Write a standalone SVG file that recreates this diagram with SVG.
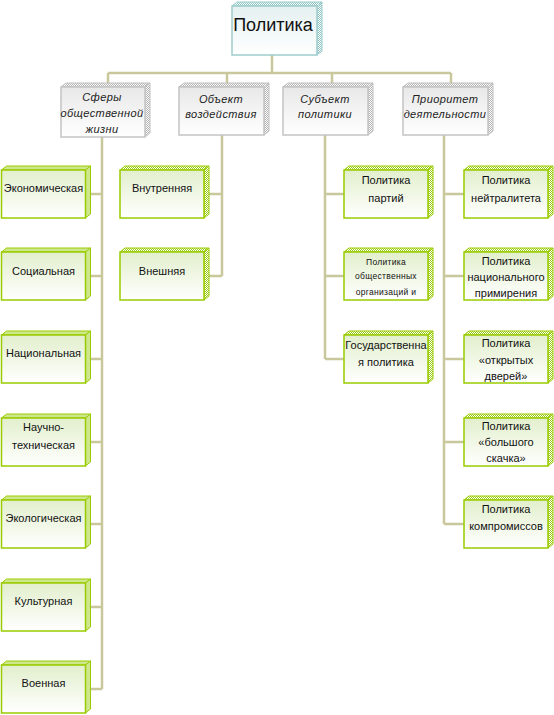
<svg xmlns="http://www.w3.org/2000/svg" xmlns:xlink="http://www.w3.org/1999/xlink" width="554" height="715" viewBox="0 0 554 715">
<style>
.conn{stroke:#c8c89c;stroke-width:2.5;fill:none}
.t{font-family:"Liberation Sans","DejaVu Sans",sans-serif;font-size:11px;fill:#111;text-anchor:middle}
.ti{font-family:"Liberation Sans","DejaVu Sans",sans-serif;font-size:11px;font-style:italic;fill:#222;text-anchor:middle;letter-spacing:0.4px}
.ts{font-family:"Liberation Sans","DejaVu Sans",sans-serif;font-size:8.5px;fill:#111;text-anchor:middle;letter-spacing:0.3px}
.tt{font-family:"Liberation Sans","DejaVu Sans",sans-serif;font-size:18px;fill:#111;text-anchor:middle}
</style>
<defs>
<pattern id="chkG" width="2" height="2" patternUnits="userSpaceOnUse"><rect width="2" height="2" fill="#ffffff"/><rect width="1" height="1" fill="#9ccc1a"/><rect x="1" y="1" width="1" height="1" fill="#9ccc1a"/></pattern>
<pattern id="chkS" width="2" height="2" patternUnits="userSpaceOnUse"><rect width="2" height="2" fill="#ffffff"/><rect width="1" height="1" fill="#b4b4b4"/><rect x="1" y="1" width="1" height="1" fill="#b4b4b4"/></pattern>
<pattern id="chkT" width="2" height="2" patternUnits="userSpaceOnUse"><rect width="2" height="2" fill="#ffffff"/><rect width="1" height="1" fill="#8fc4c4"/><rect x="1" y="1" width="1" height="1" fill="#8fc4c4"/></pattern>
<linearGradient id="gG" x1="0" y1="0" x2="0" y2="1"><stop offset="0" stop-color="#e2efcc"/><stop offset="1" stop-color="#ffffff"/></linearGradient>
<linearGradient id="gS" x1="0" y1="0" x2="0" y2="1"><stop offset="0" stop-color="#e8e8e8"/><stop offset="1" stop-color="#ffffff"/></linearGradient>
<linearGradient id="gT" x1="0" y1="0" x2="0" y2="1"><stop offset="0" stop-color="#e4f0f0"/><stop offset="1" stop-color="#ffffff"/></linearGradient>
<g id="gbox">
<polygon points="0,0 5,-4 89,-4 84,0" fill="url(#chkG)" stroke="#99cc00" stroke-width="1"/>
<polygon points="84,0 89,-4 89,44 84,48" fill="url(#chkG)" stroke="#99cc00" stroke-width="1"/>
<rect x="0" y="0" width="84" height="48" fill="url(#gG)" stroke="#99cc00" stroke-width="1.5"/>
</g>
<g id="sbox">
<polygon points="0,0 5,-4 90,-4 85,0" fill="url(#chkS)" stroke="#c0c0c0" stroke-width="1"/>
<polygon points="85,0 90,-4 90,44 85,48" fill="url(#chkS)" stroke="#c0c0c0" stroke-width="1"/>
<rect x="0" y="0" width="85" height="48" fill="url(#gS)" stroke="#c4c4c4" stroke-width="1.5"/>
</g>
</defs>
<rect width="554" height="715" fill="#ffffff"/>
<g id="connectors">
<path class="conn" d="M272,55 V73 M108,73 H451 M108,73 V83 M227,73 V83 M332,73 V83 M451,73 V83"/>
<path class="conn" d="M102,137 V689 M89,194 H102 M89,276 H102 M89,359 H102 M89,442 H102 M89,524 H102 M89,607 H102 M89,689 H102"/>
<path class="conn" d="M222,135 V276 M208,194 H222 M208,276 H222"/>
<path class="conn" d="M325,135 V359 M325,194 H344 M325,276 H344 M325,359 H344"/>
<path class="conn" d="M444,135 V524 M444,194 H464 M444,276 H464 M444,359 H464 M444,442 H464 M444,524 H464"/>
</g>
<g id="n-politika">
<polygon points="232,6 237,2 322,2 317,6" fill="url(#chkT)" stroke="#99cccc" stroke-width="1"/>
<polygon points="317,6 322,2 322,51 317,55" fill="url(#chkT)" stroke="#99cccc" stroke-width="1"/>
<rect x="232" y="6" width="85" height="49" fill="url(#gT)" stroke="#a0cccc" stroke-width="1.5"/>
<text class="tt" x="273" y="31">Политика</text>
</g>
<g id="n-sfery">
<polygon points="61,87 66,83 150,83 145,87" fill="url(#chkS)" stroke="#c0c0c0" stroke-width="1"/>
<polygon points="145,87 150,83 150,133 145,137" fill="url(#chkS)" stroke="#c0c0c0" stroke-width="1"/>
<rect x="61" y="87" width="84" height="50" fill="url(#gS)" stroke="#c4c4c4" stroke-width="1.5"/>
<text class="ti" x="102" y="101">Сферы</text>
<text class="ti" x="102" y="117">общественной</text>
<text class="ti" x="102" y="133">жизни</text>
</g>
<g id="n-obekt">
<use xlink:href="#sbox" x="179" y="87"/>
<text class="ti" x="221" y="103">Объект</text>
<text class="ti" x="221" y="118">воздействия</text>
</g>
<g id="n-subekt">
<use xlink:href="#sbox" x="283" y="87"/>
<text class="ti" x="325" y="103">Субъект</text>
<text class="ti" x="325" y="118">политики</text>
</g>
<g id="n-prioritet">
<use xlink:href="#sbox" x="403" y="87"/>
<text class="ti" x="445" y="103">Приоритет</text>
<text class="ti" x="445" y="118">деятельности</text>
</g>
<g id="n-ekon"><use xlink:href="#gbox" x="1.5" y="170"/><text class="t" x="43.5" y="192">Экономическая</text></g>
<g id="n-soc"><use xlink:href="#gbox" x="1.5" y="252"/><text class="t" x="43.5" y="275">Социальная</text></g>
<g id="n-nac"><use xlink:href="#gbox" x="1.5" y="335"/><text class="t" x="43.5" y="357">Национальная</text></g>
<g id="n-nauch"><use xlink:href="#gbox" x="1.5" y="418"/><text class="t" x="43.5" y="431">Научно-</text><text class="t" x="43.5" y="449">техническая</text></g>
<g id="n-ekol"><use xlink:href="#gbox" x="1.5" y="500"/><text class="t" x="43.5" y="522">Экологическая</text></g>
<g id="n-kult"><use xlink:href="#gbox" x="1.5" y="583"/><text class="t" x="43.5" y="605">Культурная</text></g>
<g id="n-voen"><use xlink:href="#gbox" x="1.5" y="665"/><text class="t" x="43.5" y="687">Военная</text></g>
<g id="n-vnutr"><use xlink:href="#gbox" x="120" y="170"/><text class="t" x="162" y="192">Внутренняя</text></g>
<g id="n-vnesh"><use xlink:href="#gbox" x="120" y="252"/><text class="t" x="162" y="275">Внешняя</text></g>
<g id="n-partiy"><use xlink:href="#gbox" x="344" y="170"/><text class="t" x="386" y="184">Политика</text><text class="t" x="386" y="202">партий</text></g>
<g id="n-obsh"><use xlink:href="#gbox" x="344" y="252"/><text class="ts" x="386" y="265">Политика</text><text class="ts" x="386" y="279">общественных</text><text class="ts" x="386" y="295">организаций и</text></g>
<g id="n-gos"><use xlink:href="#gbox" x="344" y="335"/><text class="t" x="386" y="349">Государственна</text><text class="t" x="386" y="366">я политика</text></g>
<g id="n-neitr"><use xlink:href="#gbox" x="464" y="170"/><text class="t" x="506" y="184">Политика</text><text class="t" x="506" y="202">нейтралитета</text></g>
<g id="n-primir"><use xlink:href="#gbox" x="464" y="252"/><text class="t" x="506" y="265">Политика</text><text class="t" x="506" y="281">национального</text><text class="t" x="506" y="297">примирения</text></g>
<g id="n-otkr"><use xlink:href="#gbox" x="464" y="335"/><text class="t" x="506" y="347">Политика</text><text class="t" x="506" y="364">«открытых</text><text class="t" x="506" y="380">дверей»</text></g>
<g id="n-bolsh"><use xlink:href="#gbox" x="464" y="418"/><text class="t" x="506" y="430">Политика</text><text class="t" x="506" y="446">«большого</text><text class="t" x="506" y="462">скачка»</text></g>
<g id="n-kompr"><use xlink:href="#gbox" x="464" y="500"/><text class="t" x="506" y="513">Политика</text><text class="t" x="506" y="530">компромиссов</text></g>
</svg>
